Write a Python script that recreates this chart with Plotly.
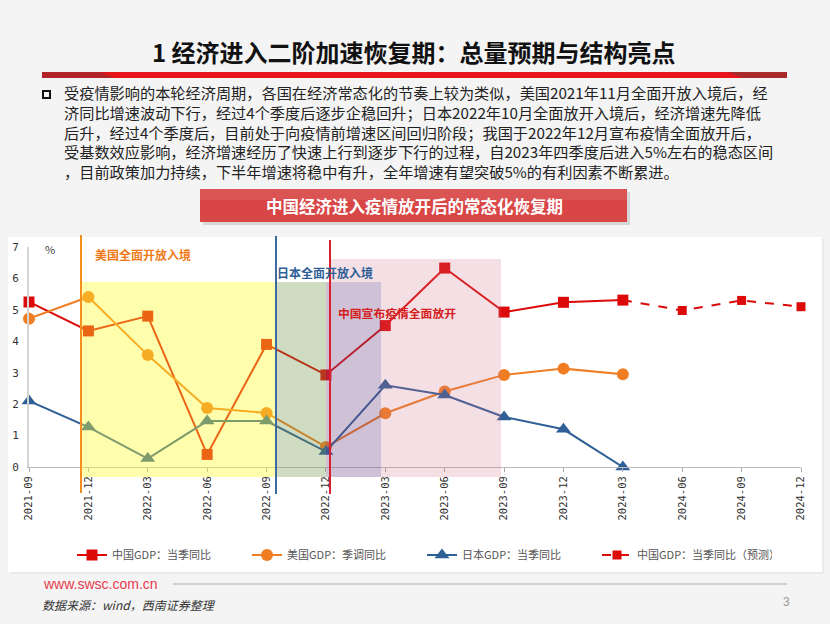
import plotly.graph_objects as go

W, H = 830, 624

quarters = ["2021-09", "2021-12", "2022-03", "2022-06", "2022-09", "2022-12", "2023-03",
            "2023-06", "2023-09", "2023-12", "2024-03", "2024-06", "2024-09", "2024-12"]
cn_gdp = [5.25, 4.33, 4.8, 0.4, 3.9, 2.93, 4.5, 6.33, 4.93, 5.24, 5.31]
us_gdp = [4.72, 5.41, 3.56, 1.88, 1.72, 0.64, 1.71, 2.40, 2.93, 3.13, 2.95]
jp_gdp = [2.1, 1.27, 0.27, 1.46, 1.46, 0.49, 2.6, 2.29, 1.59, 1.2, 0.0]
cn_forecast_q = ["2024-03", "2024-06", "2024-09", "2024-12"]
cn_forecast = [5.31, 4.98, 5.3, 5.1]

title = "1 经济进入二阶加速恢复期：总量预期与结构亮点"
body_lines = [
    "受疫情影响的本轮经济周期，各国在经济常态化的节奏上较为类似，美国2021年11月全面开放入境后，经",
    "济同比增速波动下行，经过4个季度后逐步企稳回升；日本2022年10月全面放开入境后，经济增速先降低",
    "后升，经过4个季度后，目前处于向疫情前增速区间回归阶段；我国于2022年12月宣布疫情全面放开后，",
    "受基数效应影响，经济增速经历了快速上行到逐步下行的过程，自2023年四季度后进入5%左右的稳态区间",
    "，目前政策加力持续，下半年增速将稳中有升，全年增速有望突破5%的有利因素不断累进。",
]
banner = "中国经济进入疫情放开后的常态化恢复期"

CJK = "Noto Sans CJK SC"
RED, ORANGE, BLUE = "#dd0a0a", "#f07d22", "#2f5f97"


def px(x):
    return x / W


def py(y):
    return 1 - y / H


def rect(x0, y0, x1, y1, color, layer="below", line=None):
    return dict(type="rect", xref="paper", yref="paper", x0=px(x0), x1=px(x1),
                y0=py(y1), y1=py(y0), fillcolor=color, layer=layer,
                line=line or dict(width=0))


def poly(points, color, layer="below"):
    d = "M" + " L".join(f"{px(x)},{py(y)}" for x, y in points) + " Z"
    return dict(type="path", xref="paper", yref="paper", path=d, fillcolor=color,
                layer=layer, line=dict(width=0))


def vline(x, y0, y1, color):
    return dict(type="line", xref="paper", yref="paper", x0=px(x), x1=px(x),
                y0=py(y1), y1=py(y0), layer="above", line=dict(color=color, width=2))


fig = go.Figure()
fig.add_trace(go.Scatter(x=quarters[:len(cn_gdp)], y=cn_gdp, name="中国GDP：当季同比",
                         mode="lines+markers", line=dict(color=RED, width=2),
                         marker=dict(symbol="square", size=11, color=RED), cliponaxis=False))
fig.add_trace(go.Scatter(x=quarters[:len(us_gdp)], y=us_gdp, name="美国GDP：季调同比",
                         mode="lines+markers", line=dict(color=ORANGE, width=2),
                         marker=dict(symbol="circle", size=12, color=ORANGE), cliponaxis=False))
fig.add_trace(go.Scatter(x=quarters[:len(jp_gdp)], y=jp_gdp, name="日本GDP：当季同比",
                         mode="lines+markers", line=dict(color=BLUE, width=2),
                         marker=dict(symbol="triangle-up", size=13, color=BLUE), cliponaxis=False))
fig.add_trace(go.Scatter(x=cn_forecast_q, y=cn_forecast, name="中国GDP：当季同比（预测）",
                         mode="lines+markers", line=dict(color=RED, width=2, dash="dash"),
                         marker=dict(symbol="square", size=9, color=RED), cliponaxis=False))

shapes = [
    # chart panel
    rect(10, 239, 824, 574, "rgba(0,0,0,0.04)"),
    rect(8, 237, 822, 572, "white"),
    # title bar
    rect(42, 72, 787, 78, "#e8141c"),
    poly([(42, 72), (100, 72), (115, 78), (42, 78)], "#b3232a"),
    poly([(728, 72), (787, 72), (787, 78), (742, 78)], "#a92a2a"),
    # bullet
    rect(43, 91, 50, 98, "rgba(0,0,0,0)", line=dict(color="#111", width=2)),
    # banner button
    rect(203, 192, 630, 225, "rgba(0,0,0,0.12)"),
    rect(200, 189, 627, 222, "#d84646"),
    rect(200, 189, 627, 200, "rgba(255,255,255,0.08)"),
    # footer rule
    dict(type="line", xref="paper", yref="paper", x0=px(173), x1=px(787), y0=py(584), y1=py(584),
         line=dict(color="#d0d0d0", width=2)),
    # shaded periods (drawn over the lines)
    rect(80, 282, 276, 477, "rgba(255,252,40,0.38)", layer="above"),
    rect(276, 282, 326, 477, "rgba(110,150,70,0.33)", layer="above"),
    rect(326, 282, 381, 477, "rgba(110,70,130,0.33)", layer="above"),
    rect(330, 259, 381, 282, "rgba(205,110,130,0.22)", layer="above"),
    rect(381, 259, 501, 477, "rgba(205,110,130,0.22)", layer="above"),
    # event lines
    vline(81, 235, 493, "#f5901e"),
    vline(276, 236, 494, "#3d6aa0"),
    vline(330, 240, 494, "#d92030"),
]

annotations = [
    dict(x=px(414), y=py(51), text=f"<b>{title}</b>", font=dict(family=CJK, size=24, color="#111")),
    dict(x=px(414), y=py(206), text=f"<b>{banner}</b>", font=dict(family=CJK, size=16.5, color="white")),
    dict(x=px(93), y=py(254), xanchor="left", text="<b>美国全面开放入境</b>",
         font=dict(family=CJK, size=12, color="#f07a1a")),
    dict(x=px(275), y=py(272), xanchor="left", text="<b>日本全面开放入境</b>",
         font=dict(family=CJK, size=12, color="#2f5f97")),
    dict(x=px(336), y=py(312), xanchor="left", text="<b>中国宣布疫情全面放开</b>",
         font=dict(family=CJK, size=11.8, color="#d42020")),
    dict(x=px(50), y=py(249), text="%", font=dict(family=CJK, size=11, color="#444")),
    dict(x=px(41), y=py(584), xanchor="left", text="www.swsc.com.cn",
         font=dict(family="Liberation Sans", size=14, color="#e83a4e")),
    dict(x=px(40), y=py(604), xanchor="left", text="<i>数据来源：wind，西南证券整理</i>",
         font=dict(family=CJK, size=12, color="#333")),
    dict(x=px(786), y=py(602), text="3", font=dict(family="Liberation Sans", size=12, color="#999")),
    dict(x=px(62), y=py(131), xanchor="left", align="left", text="<br>".join(body_lines),
         font=dict(family=CJK, size=15.2, color="#222")),
]
for a in annotations:
    a.update(xref="paper", yref="paper", showarrow=False)
    a.setdefault("xanchor", "center")
    a.setdefault("yanchor", "middle")

fig.update_layout(
    width=W, height=H,
    margin=dict(l=0, r=0, t=0, b=0, autoexpand=False),
    paper_bgcolor="#f4f4f4",
    plot_bgcolor="rgba(0,0,0,0)",
    shapes=shapes,
    annotations=annotations,
    showlegend=True,
    legend=dict(orientation="h", x=px(72), y=py(555), xanchor="left", yanchor="middle",
                entrywidth=130, entrywidthmode="pixels", itemwidth=30,
                font=dict(family=CJK, size=11, color="#555"), bgcolor="rgba(0,0,0,0)"),
    xaxis=dict(domain=[px(29), px(801)], type="category", categoryorder="array",
               categoryarray=quarters, range=[0, 13], showgrid=False, automargin=False,
               tickmode="array", tickvals=quarters, ticktext=quarters,
               tickangle=-90, ticks="outside", ticklen=4, tickcolor="#aaa",
               showline=True, linecolor="#bbb", linewidth=1,
               tickfont=dict(family="DejaVu Sans Mono", size=10.5, color="#333")),
    yaxis=dict(domain=[py(467), py(247)], range=[0, 7], dtick=1, showgrid=False,
               zeroline=False, showline=True, linecolor="#d4d4d4", linewidth=2,
               ticks="", ticklabelstandoff=6, automargin=False,
               tickfont=dict(family="DejaVu Sans Mono", size=11, color="#333")),
)

fig.write_html("out.html", config={"displayModeBar": False},
               post_script="document.body.style.margin = '0';")
